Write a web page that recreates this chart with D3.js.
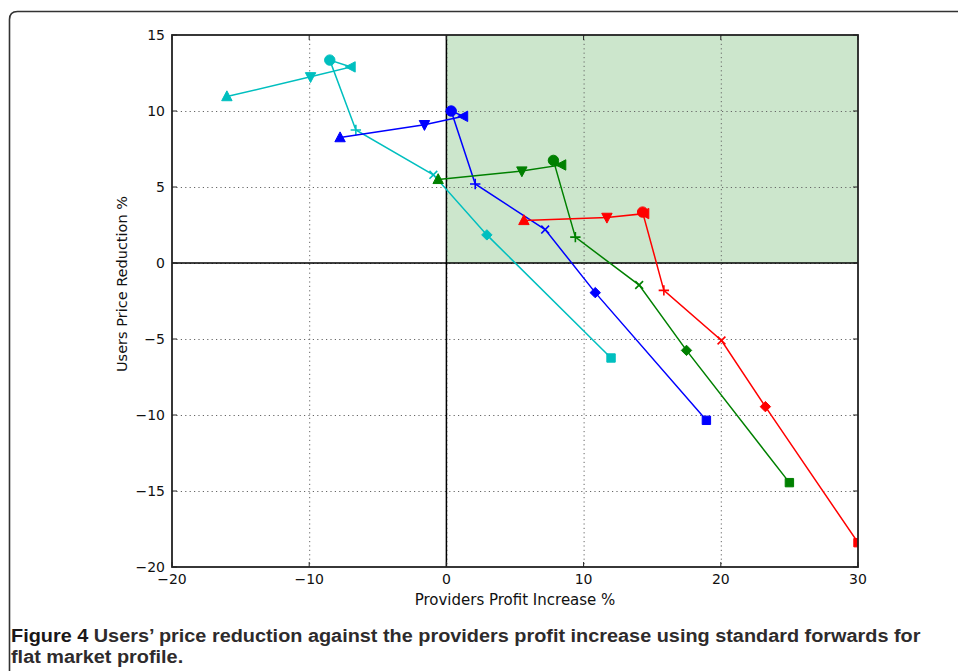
<!DOCTYPE html>
<html>
<head>
<meta charset="utf-8">
<script src="https://cdn.jsdelivr.net/npm/d3@7"></script>
<style>
  html, body { margin: 0; padding: 0; background: #fff; }
  svg { display: block; }
</style>
</head>
<body>
<svg id="chart" width="958" height="671"></svg>
<script>
// ---------------- data ----------------
const xTicks = [-20, -10, 0, 10, 20, 30];
const yTicks = [15, 10, 5, 0, -5, -10, -15, -20];
const markerTypes = ['^', 'v', '<', 'o', '+', 'x', 'D', 's'];

const cyanX  = [-16.0, -9.9, -6.95, -8.5, -6.6, -0.95, 2.95, 12.0];
const cyanY  = [10.95, 12.25, 12.9, 13.35, 8.75, 5.8, 1.85, -6.25];
const blueX  = [-7.75, -1.6, 1.25, 0.35, 2.1, 7.2, 10.85, 18.95];
const blueY  = [8.25, 9.1, 9.65, 10.0, 5.2, 2.2, -1.95, -10.35];
const greenX = [-0.6, 5.5, 8.4, 7.8, 9.4, 14.05, 17.5, 25.0];
const greenY = [5.5, 6.05, 6.45, 6.75, 1.7, -1.45, -5.75, -14.45];
const redX   = [5.65, 11.7, 14.45, 14.3, 15.85, 20.05, 23.25, 30.0];
const redY   = [2.8, 3.0, 3.25, 3.35, -1.8, -5.1, -9.45, -18.4];

const seriesColors = ['#00bfbf', '#0000ff', '#008000', '#ff0000'];
const seriesXs = [cyanX, blueX, greenX, redX];
const seriesYs = [cyanY, blueY, greenY, redY];

const xLabel = 'Providers Profit Increase %';
const yLabel = 'Users Price Reduction %';
const captionBold = 'Figure 4';
const captionLine1 = ' Users\u2019 price reduction against the providers profit increase using standard forwards for';
const captionLine2 = 'flat market profile.';

// ---------------- layout ----------------
const svg = d3.select('#chart');
const L = 172, R = 858, T = 35, B = 567;
const x = d3.scaleLinear().domain([-20, 30]).range([L, R]);
const y = d3.scaleLinear().domain([-20, 15]).range([B, T]);
const fmt = v => (v < 0 ? '\u2212' + Math.abs(v) : String(v));

// outer rounded frame
svg.append('path')
  .attr('d', `M9.5,${671 + 5} L9.5,19.5 Q9.5,11.5 17.5,11.5 L${958 + 5},11.5`)
  .attr('fill', 'none').attr('stroke', '#333').attr('stroke-width', 1.6);

const defs = svg.append('defs');
defs.append('clipPath').attr('id', 'plotclip')
  .append('rect').attr('x', L).attr('y', T).attr('width', R - L).attr('height', B - T);

// green shaded quadrant
svg.append('rect')
  .attr('x', x(0)).attr('y', y(15))
  .attr('width', x(30) - x(0)).attr('height', y(0) - y(15))
  .attr('fill', '#cce6cc');

// grid
const grid = svg.append('g').attr('stroke', '#666').attr('stroke-width', 1)
  .attr('stroke-dasharray', '1.2,3.2');
grid.selectAll('.gx').data(xTicks.slice(1, -1)).join('line')
  .attr('x1', d => x(d) + 0.5).attr('x2', d => x(d) + 0.5).attr('y1', T).attr('y2', B);
grid.selectAll('.gy').data(yTicks.slice(1, -1)).join('line')
  .attr('y1', d => y(d) + 0.5).attr('y2', d => y(d) + 0.5).attr('x1', L).attr('x2', R);

// zero lines
svg.append('line').attr('x1', x(0)).attr('x2', x(0)).attr('y1', T).attr('y2', B)
  .attr('stroke', '#000').attr('stroke-width', 1.5);
svg.append('line').attr('x1', L).attr('x2', R).attr('y1', y(0)).attr('y2', y(0))
  .attr('stroke', '#000').attr('stroke-width', 1.5);

// series
const plot = svg.append('g').attr('clip-path', 'url(#plotclip)');
const lineGen = d3.line().x(d => x(d[0])).y(d => y(d[1]));

function markerPath(type) {
  const s = 5.2;
  switch (type) {
    case '^': return `M0,${-s * 1.1} L${s},${s * 0.8} L${-s},${s * 0.8} Z`;
    case 'v': return `M0,${s * 1.1} L${s},${-s * 0.8} L${-s},${-s * 0.8} Z`;
    case '<': return `M${-s * 1.1},0 L${s * 0.8},${-s} L${s * 0.8},${s} Z`;
    case 'o': return d3.symbol(d3.symbolCircle, Math.PI * 5.2 * 5.2)();
    case '+': return `M${-s},0 L${s},0 M0,${-s} L0,${s}`;
    case 'x': return `M${-s * 0.75},${-s * 0.75} L${s * 0.75},${s * 0.75} M${-s * 0.75},${s * 0.75} L${s * 0.75},${-s * 0.75}`;
    case 'D': return `M0,${-s} L${s},0 L0,${s} L${-s},0 Z`;
    case 's': return `M${-4.2},${-4.2} L4.2,${-4.2} L4.2,4.2 L${-4.2},4.2 Z`;
  }
}

seriesXs.forEach((xs, i) => {
  const pts = xs.map((v, j) => [v, seriesYs[i][j], markerTypes[j]]);
  const color = seriesColors[i];
  const g = plot.append('g');
  g.append('path').datum(pts).attr('d', lineGen)
    .attr('fill', 'none').attr('stroke', color).attr('stroke-width', 1.5);
  g.selectAll('path.m').data(pts).join('path').attr('class', 'm')
    .attr('transform', d => `translate(${x(d[0])},${y(d[1])})`)
    .attr('d', d => markerPath(d[2]))
    .attr('fill', d => (d[2] === '+' || d[2] === 'x') ? 'none' : color)
    .attr('stroke', color)
    .attr('stroke-width', d => (d[2] === '+' || d[2] === 'x') ? 1.6 : 1);
});

// axes frame
svg.append('rect').attr('x', L).attr('y', T).attr('width', R - L).attr('height', B - T)
  .attr('fill', 'none').attr('stroke', '#222').attr('stroke-width', 1.8);

// ticks (inward, all four sides)
const tk = svg.append('g').attr('stroke', '#222').attr('stroke-width', 1);
xTicks.forEach(v => {
  tk.append('line').attr('x1', x(v)).attr('x2', x(v)).attr('y1', B).attr('y2', B - 5);
  tk.append('line').attr('x1', x(v)).attr('x2', x(v)).attr('y1', T).attr('y2', T + 5);
});
yTicks.forEach(v => {
  tk.append('line').attr('y1', y(v)).attr('y2', y(v)).attr('x1', L).attr('x2', L + 5);
  tk.append('line').attr('y1', y(v)).attr('y2', y(v)).attr('x1', R).attr('x2', R - 5);
});

// tick labels
const font = 'DejaVu Sans, sans-serif';
svg.append('g').selectAll('text').data(xTicks).join('text')
  .attr('x', d => x(d)).attr('y', B + 17)
  .attr('text-anchor', 'middle').attr('font-family', font).attr('font-size', 14)
  .attr('fill', '#111').text(fmt);
svg.append('g').selectAll('text').data(yTicks).join('text')
  .attr('x', L - 7).attr('y', d => y(d) + 5)
  .attr('text-anchor', 'end').attr('font-family', font).attr('font-size', 14)
  .attr('fill', '#111').text(fmt);

// axis labels
svg.append('text').attr('x', (L + R) / 2).attr('y', 605)
  .attr('text-anchor', 'middle').attr('font-family', font).attr('font-size', 15)
  .attr('fill', '#111').text(xLabel);
svg.append('text').attr('transform', `translate(127,${(T + B) / 2 - 17}) rotate(-90)`)
  .attr('text-anchor', 'middle').attr('font-family', font).attr('font-size', 14.5)
  .attr('fill', '#111').text(yLabel);

// caption
const cap = svg.append('g');
const capFont = 'Liberation Sans, Arial, sans-serif';
const t1 = cap.append('text').attr('x', 0).attr('y', 642)
  .attr('font-family', capFont).attr('font-size', 18.5).attr('font-weight', 700);
t1.append('tspan').attr('fill', '#1a1718').text(captionBold);
t1.append('tspan').attr('fill', '#2e2b2c').text(captionLine1);
cap.append('text').attr('x', 0).attr('y', 663)
  .attr('font-family', capFont).attr('font-size', 18.5).attr('fill', '#2e2b2c')
  .attr('font-weight', 700).text(captionLine2);
const w1 = t1.node().getComputedTextLength();
const sx = 910 / w1;
cap.attr('transform', `translate(11,0) scale(${sx},1)`);
</script>
</body>
</html>
